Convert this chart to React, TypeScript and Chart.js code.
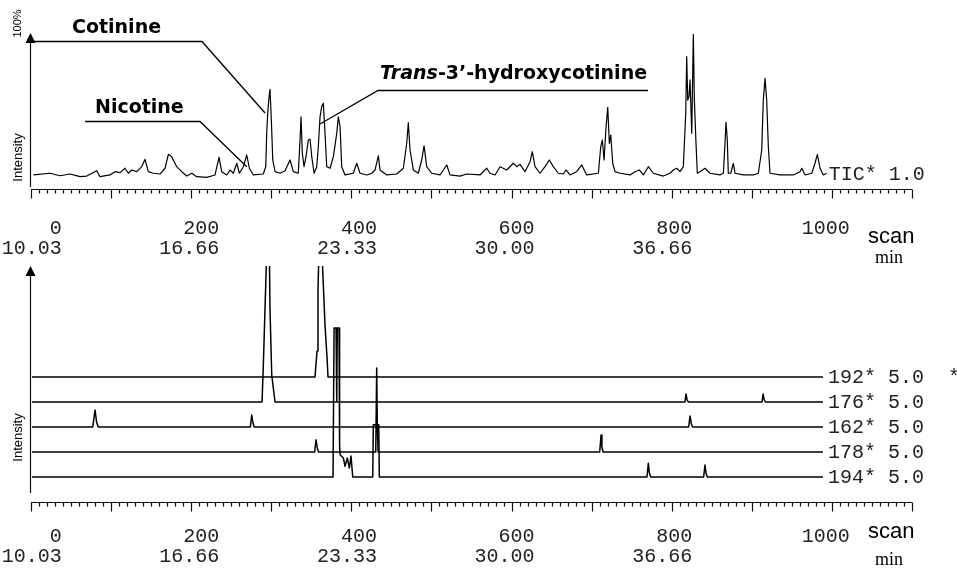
import React, { useEffect, useRef } from 'react';
import { Chart, registerables } from 'chart.js';

Chart.register(...registerables);

// ---- axis labels ----
const scanTicks = [0, 200, 400, 600, 800, 1000];
const scanLabels = ['0', '200', '400', '600', '800', '1000'];
const minuteLabels = ['10.03', '16.66', '23.33', '30.00', '36.66', ''];

// ---- TIC trace: [scan, intensity %] ----
const ticTrace: [number, number][] = [
  [-36.0, 9.0], [-14.8, 10.1], [-2.2, 8.5], [10.5, 9.6], [23.2, 7.9], [31.7, 8.3], [44.4, 11.7], [48.6, 7.9],
  [61.3, 9.0], [67.6, 11.1], [74.0, 10.5], [80.3, 13.3], [84.5, 10.1], [88.8, 12.2], [95.2, 11.1], [101.5, 14.3],
  [105.7, 19.0], [109.9, 11.1], [116.2, 10.1], [124.7, 9.6], [131.1, 13.3], [135.3, 22.2], [139.6, 20.7], [145.9, 14.3],
  [152.3, 11.1], [158.6, 8.3], [165.0, 10.1], [171.3, 7.9], [184.0, 7.5], [194.5, 9.0], [199.6, 20.3], [203.0, 11.1],
  [209.4, 9.0], [213.6, 12.2], [217.8, 10.1], [222.1, 16.5], [225.4, 10.1], [230.5, 14.3], [234.8, 21.8], [238.1, 13.3],
  [243.1, 9.0], [255.8, 9.6], [258.9, 14.3], [260.1, 35.7], [261.4, 48.5], [262.7, 57.0], [264.3, 63.9], [266.0, 44.2],
  [267.8, 18.6], [270.7, 11.1], [277.0, 10.1], [283.4, 11.7], [289.7, 18.6], [293.9, 11.1], [300.2, 10.1], [302.4, 31.4],
  [303.7, 46.3], [305.3, 22.9], [307.5, 14.3], [310.0, 20.7], [312.9, 31.4], [315.1, 31.9], [317.3, 20.7], [320.2, 10.1],
  [323.6, 14.3], [325.6, 27.1], [327.8, 46.3], [329.9, 52.8], [332.0, 54.9], [334.1, 35.7], [336.3, 14.3], [340.5, 13.3],
  [344.7, 20.7], [349.0, 35.7], [351.0, 46.3], [353.2, 39.9], [355.3, 14.3], [359.5, 9.0], [370.0, 10.1], [374.4, 16.5],
  [378.5, 10.1], [387.0, 9.0], [393.4, 10.1], [397.6, 12.2], [401.8, 21.2], [403.9, 12.2], [412.4, 9.0], [425.1, 9.6],
  [433.5, 13.3], [437.8, 29.3], [439.8, 42.5], [442.0, 25.0], [446.2, 12.2], [452.5, 10.1], [456.8, 18.6], [459.8, 27.6],
  [463.2, 14.3], [469.5, 10.1], [480.1, 9.0], [488.6, 15.4], [492.8, 9.0], [505.4, 8.3], [513.9, 9.6], [530.8, 9.0],
  [539.3, 13.3], [543.5, 10.1], [549.9, 9.0], [556.2, 14.3], [564.7, 12.2], [573.1, 16.5], [577.4, 14.3], [581.6, 15.8],
  [587.9, 11.1], [594.3, 17.5], [597.2, 23.9], [600.6, 14.3], [607.0, 10.1], [613.3, 14.3], [618.8, 18.6], [623.8, 14.3],
  [630.2, 10.1], [636.5, 9.6], [640.0, 12.2], [645.0, 9.0], [653.5, 11.1], [659.9, 15.4], [666.2, 9.0], [681.0, 10.1],
  [684.0, 27.1], [686.0, 31.4], [688.2, 18.6], [690.7, 39.5], [692.9, 52.4], [694.9, 29.3], [696.7, 34.6], [699.2, 16.5],
  [702.1, 11.1], [708.5, 10.1], [721.2, 9.0], [727.5, 11.1], [733.0, 12.2], [738.1, 9.0], [744.4, 14.3], [750.7, 10.1],
  [763.4, 8.3], [771.9, 10.1], [776.1, 12.2], [780.4, 13.3], [784.6, 11.1], [788.8, 14.3], [791.9, 48.5], [793.1, 84.8],
  [794.4, 57.0], [796.0, 59.2], [797.3, 69.9], [799.5, 35.7], [801.5, 99.2], [802.8, 57.0], [804.9, 29.3], [806.6, 10.1],
  [810.0, 11.1], [816.3, 13.3], [822.7, 10.1], [835.4, 9.0], [839.6, 10.1], [841.7, 29.3], [843.0, 42.8], [844.6, 31.4],
  [845.9, 10.1], [849.0, 10.1], [852.3, 16.5], [854.4, 10.1], [865.0, 9.0], [877.6, 9.0], [884.0, 10.1], [888.3, 25.0],
  [890.3, 57.0], [892.5, 71.0], [894.6, 57.0], [896.7, 27.1], [898.8, 10.1], [911.5, 9.0], [928.4, 9.0], [936.9, 11.1],
  [939.1, 13.3], [943.3, 9.0], [951.8, 10.1], [955.9, 16.5], [958.9, 22.2], [962.3, 13.3], [966.5, 9.0], [970.8, 10.1],
];
const ticLabel = 'TIC* 1.0';

// ---- ion traces: [scan, intensity above own baseline] ----
const ion192: [number, number][] = [
  [-37.7, 0], [321.4, 0], [324.0, 10.4], [325.2, 34.4], [326.5, 52], [329.1, 56], [330.3, 50], [331.6, 39.6],
  [334.1, 20.8], [336.7, 7.6], [337.9, 0], [966.1, 0],
];
const ion176: [number, number][] = [
  [-37.7, 0], [254.2, 0], [255.8, 14.4], [258.0, 37.6], [260.1, 60], [263.4, 62], [264.3, 36.9], [266.5, 10.9],
  [268.5, 5.6], [270.7, 0], [790.9, 0], [792.2, 3.2], [793.5, 1.0], [795.0, 0], [888.7, 0], [890.0, 3.2],
  [891.3, 1.0], [893.0, 0], [966.1, 0],
];
const ion162: [number, number][] = [
  [-37.7, 0], [39.3, 0], [42.3, 6.8], [44.2, 2.0], [46.4, 0], [239.4, 0], [241.1, 4.8], [242.8, 1.5], [244.5, 0],
  [795.6, 0], [797.3, 4.4], [799.0, 1.3], [800.5, 0], [966.1, 0],
];
const ion178: [number, number][] = [
  [-37.7, 0], [321.0, 0], [322.7, 4.9], [324.4, 1.5], [326.0, 0], [398.5, 0], [399.7, 33.6], [400.5, 10],
  [401.5, 0], [682.7, 0], [684.4, 6.8], [685.5, 2.0], [687.0, 0], [966.1, 0],
];
const ion194: [number, number][] = [
  [-37.7, 0], [344.3, 0], [345.6, 59.6], [348.1, 59.6], [349.0, 30.4], [349.7, 59.6], [351.9, 59.6], [352.6, 12.9],
  [353.2, 8.9], [357.4, 7.6], [359.5, 4.3], [362.4, 7.6], [365.0, 3.6], [367.1, 8.4], [369.3, 0], [394.7, 0],
  [395.4, 20.9], [402.3, 20.9], [403.0, 0], [742.7, 0], [744.4, 5.5], [745.8, 1.5], [747.5, 0], [814.6, 0],
  [816.3, 4.8], [817.7, 1.4], [819.3, 0], [966.1, 0],
];
const ionTraces = [ion192, ion176, ion162, ion178, ion194];
const ionLabels = ['192* 5.0  *', '176* 5.0', '162* 5.0', '178* 5.0', '194* 5.0'];
const traceOffsets = [50, 40, 30, 20, 10];

// ---- compound annotations (anchor on TIC peak) ----
const compoundNames = ['Cotinine', 'Nicotine', 'Trans-3’-hydroxycotinine'];
const compoundScan = [258.0, 234.8, 327.8];
const compoundIntensity = [48.7, 14.3, 41.7];

const MONO = '"Liberation Mono", "DejaVu Sans Mono", monospace';

function drawRulerAndAxis(chart: any, axisBottomGap: number) {
  const ctx = chart.ctx as CanvasRenderingContext2D;
  const { left, right, top, bottom } = chart.chartArea;
  ctx.save();
  ctx.strokeStyle = '#111';
  ctx.fillStyle = '#000';
  ctx.lineWidth = 1.2;
  ctx.beginPath();
  const yb = Math.round(bottom) + 0.5;
  ctx.moveTo(left, yb);
  ctx.lineTo(right, yb);
  const n = 110;
  for (let i = 0; i <= n; i++) {
    const x = Math.round(left + ((right - left) * i) / n) + 0.5;
    const len = i % 10 === 0 ? 9 : 4;
    ctx.moveTo(x, yb);
    ctx.lineTo(x, yb + len);
  }
  ctx.stroke();
  // vertical intensity axis with arrow
  const ax = Math.round(left) - 0.5;
  ctx.beginPath();
  ctx.moveTo(ax, top + 8);
  ctx.lineTo(ax, bottom - axisBottomGap);
  ctx.stroke();
  ctx.beginPath();
  ctx.moveTo(ax, top);
  ctx.lineTo(ax - 5, top + 10);
  ctx.lineTo(ax + 5, top + 10);
  ctx.closePath();
  ctx.fill();
  ctx.restore();
}

function rotatedText(ctx: CanvasRenderingContext2D, text: string, x: number, y: number, font: string) {
  ctx.save();
  ctx.translate(x, y);
  ctx.rotate(-Math.PI / 2);
  ctx.font = font;
  ctx.textAlign = 'center';
  ctx.textBaseline = 'middle';
  ctx.fillStyle = '#000';
  ctx.fillText(text, 0, 0);
  ctx.restore();
}

const topDecor = {
  id: 'topDecor',
  afterDraw(chart: any) {
    const ctx = chart.ctx as CanvasRenderingContext2D;
    const xs = chart.scales.x;
    const ys = chart.scales.y;
    drawRulerAndAxis(chart, 2);
    rotatedText(ctx, '100%', 17.5, 23.5, '11px "Liberation Sans", Arial, sans-serif');
    rotatedText(ctx, 'Intensity', 18.5, 157.5, '13px "Liberation Sans", Arial, sans-serif');

    ctx.save();
    ctx.fillStyle = '#000';
    ctx.textBaseline = 'alphabetic';
    ctx.font = '22px "Liberation Sans", Arial, sans-serif';
    ctx.fillText('scan', 868, 243);
    ctx.font = '18px "Liberation Serif", "Times New Roman", serif';
    ctx.fillText('min', 875, 263);

    // TIC label at end of trace
    const last = ticTrace[ticTrace.length - 1];
    ctx.font = '20px ' + MONO;
    ctx.fillStyle = '#222';
    ctx.textBaseline = 'middle';
    ctx.fillText(ticLabel, xs.getPixelForValue(last[0]) + 2, ys.getPixelForValue(last[1]) + 1);

    // compound leaders
    ctx.strokeStyle = '#000';
    ctx.lineWidth = 1.3;
    const ax = compoundScan.map((s) => xs.getPixelForValue(s));
    const ay = compoundIntensity.map((v) => ys.getPixelForValue(v));
    ctx.beginPath();
    ctx.moveTo(32, 41.5);
    ctx.lineTo(202, 41.5);
    ctx.lineTo(ax[0], ay[0]);
    ctx.moveTo(85, 121.5);
    ctx.lineTo(200, 121.5);
    ctx.lineTo(ax[1], ay[1]);
    ctx.moveTo(648, 90.5);
    ctx.lineTo(378, 90.5);
    ctx.lineTo(ax[2], ay[2]);
    ctx.stroke();

    ctx.fillStyle = '#000';
    ctx.textBaseline = 'alphabetic';
    ctx.font = 'bold 19px "DejaVu Sans", Verdana, sans-serif';
    ctx.fillText(compoundNames[0], 72, 33);
    ctx.fillText(compoundNames[1], 95, 113);
    const [italicPart, ...rest] = compoundNames[2].split('-');
    const restText = '-' + rest.join('-');
    ctx.font = 'italic bold 19px "DejaVu Sans", Verdana, sans-serif';
    ctx.fillText(italicPart, 380, 79);
    const w = ctx.measureText(italicPart).width;
    ctx.font = 'bold 19px "DejaVu Sans", Verdana, sans-serif';
    ctx.fillText(restText, 380 + w, 79);
    ctx.restore();
  },
};

const bottomDecor = {
  id: 'bottomDecor',
  afterDraw(chart: any) {
    const ctx = chart.ctx as CanvasRenderingContext2D;
    const xs = chart.scales.x;
    const ys = chart.scales.y;
    drawRulerAndAxis(chart, 9);
    rotatedText(ctx, 'Intensity', 18.5, 437.5, '13px "Liberation Sans", Arial, sans-serif');
    ctx.save();
    ctx.fillStyle = '#000';
    ctx.textBaseline = 'alphabetic';
    ctx.font = '22px "Liberation Sans", Arial, sans-serif';
    ctx.fillText('scan', 868, 538);
    ctx.font = '18px "Liberation Serif", "Times New Roman", serif';
    ctx.fillText('min', 875, 565);
    ctx.font = '20px ' + MONO;
    ctx.fillStyle = '#222';
    ctx.textBaseline = 'middle';
    ionTraces.forEach((tr, i) => {
      const last = tr[tr.length - 1];
      ctx.fillText(ionLabels[i], xs.getPixelForValue(last[0]) + 5, ys.getPixelForValue(last[1] + traceOffsets[i]) + 1);
    });
    ctx.restore();
  },
};

function xAxis(pad: number) {
  return {
    type: 'linear' as const,
    min: -39,
    max: 1079,
    grid: { display: false, drawTicks: false },
    border: { display: false },
    afterBuildTicks: (s: any) => {
      s.ticks = scanTicks.map((v) => ({ value: v }));
    },
    afterFit: (s: any) => {
      s.height = 73;
      s.paddingLeft = 0;
      s.paddingRight = 0;
    },
    ticks: {
      autoSkip: false,
      maxRotation: 0,
      minRotation: 0,
      align: 'end' as const,
      padding: pad,
      color: '#222',
      font: { family: MONO, size: 20, lineHeight: 1 },
      callback: (_v: any, i: number) => (minuteLabels[i] ? [scanLabels[i], minuteLabels[i]] : scanLabels[i]),
    },
  };
}

const lineStyle = {
  borderColor: '#000',
  pointRadius: 0,
  tension: 0,
  fill: false,
  borderJoinStyle: 'round' as const,
};

export default function App() {
  const topRef = useRef<HTMLCanvasElement>(null);
  const botRef = useRef<HTMLCanvasElement>(null);

  useEffect(() => {
    const topChart = new Chart(topRef.current as HTMLCanvasElement, {
      type: 'line',
      data: {
        datasets: [
          {
            ...lineStyle,
            borderWidth: 1.2,
            data: ticTrace.map(([x, y]) => ({ x, y })),
          },
        ],
      },
      options: {
        responsive: false,
        animation: false,
        devicePixelRatio: 1,
        layout: { padding: { left: 31, right: 45, top: 33, bottom: 313 } },
        plugins: { legend: { display: false }, tooltip: { enabled: false } },
        scales: {
          x: xAxis(30) as any,
          y: { display: false, min: 0, max: 100 },
        },
      },
      plugins: [topDecor],
    });

    const botChart = new Chart(botRef.current as HTMLCanvasElement, {
      type: 'line',
      data: {
        datasets: ionTraces.map((tr, i) => ({
          ...lineStyle,
          borderWidth: 1.5,
          data: tr.map(([x, y]) => ({ x, y: y + traceOffsets[i] })),
        })),
      },
      options: {
        responsive: false,
        animation: false,
        devicePixelRatio: 1,
        layout: { padding: { left: 31, right: 45, top: 266, bottom: 0 } },
        plugins: { legend: { display: false }, tooltip: { enabled: false } },
        scales: {
          x: xAxis(25) as any,
          y: { display: false, min: 0, max: 94.4 },
        },
      },
      plugins: [bottomDecor],
    });

    return () => {
      topChart.destroy();
      botChart.destroy();
    };
  }, []);

  return (
    <div style={{ position: 'absolute', left: 0, top: 0, width: 957, height: 575, background: '#fff', overflow: 'hidden' }}>
      <canvas ref={botRef} width={957} height={575} style={{ position: 'absolute', left: 0, top: 0 }} />
      <canvas ref={topRef} width={957} height={575} style={{ position: 'absolute', left: 0, top: 0 }} />
    </div>
  );
}
